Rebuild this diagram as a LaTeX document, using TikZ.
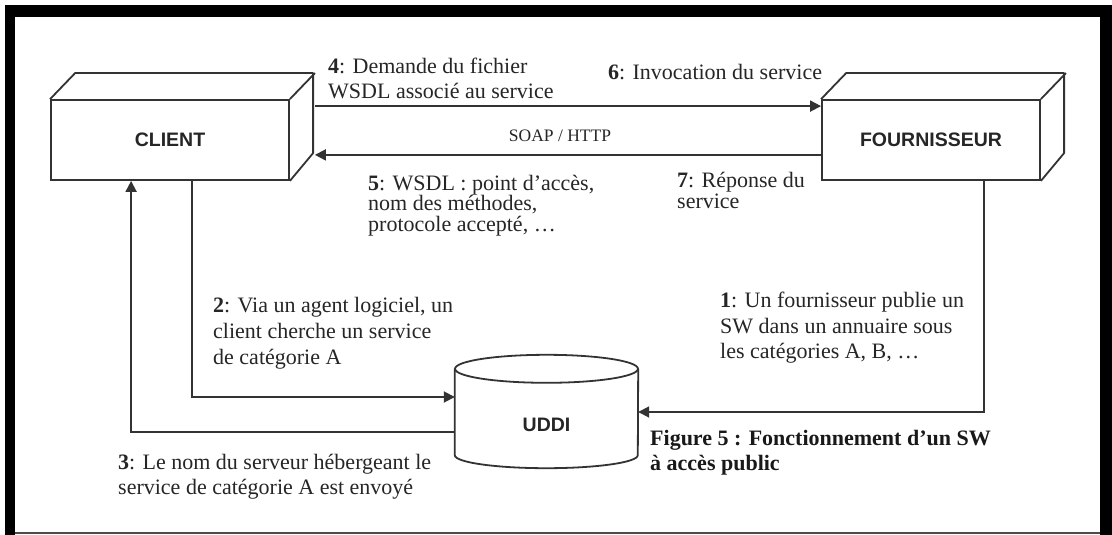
\documentclass[tikz,border=0pt]{standalone}
\usepackage{fontspec}
\setmainfont{Liberation Serif}
\setsansfont{Liberation Sans}
\usetikzlibrary{arrows.meta,calc}
\begin{document}
\begin{tikzpicture}[x=1pt,y=-1pt,
  ln/.style={draw=black!80, line width=1.8pt},
  arr/.style={ln, -{Triangle[length=11pt,width=11pt]}},
  box/.style={ln, minimum height=80pt, inner sep=0pt, font=\sffamily\bfseries\fontsize{19.5}{22}\selectfont, text=black!85},
  sanslbl/.style={inner sep=0pt, font=\sffamily\bfseries\fontsize{19.5}{22}\selectfont, text=black!85},
  lbl/.style={anchor=base west, inner sep=0pt, font=\fontsize{22}{25}\selectfont, text=black!85},
  captionlbl/.style={lbl, font=\bfseries\fontsize{22}{25}\selectfont, text=black!90},
]
\useasboundingbox (0,0) rectangle (1112,535);
\fill[white] (0,0) rectangle (1112,535);
% frame
\fill[black] (5,5) rectangle (15,535);
\fill[black] (5,5) rectangle (1112,17);
\fill[black] (1100,5) rectangle (1112,535);
\draw[black!70, line width=1.5pt] (15,533) -- (1100,533);

% boxes
\node[box, minimum width=238pt] (client) at (170,140) {CLIENT};
\draw[ln, line join=round] (client.north west) -- ++(25,-26) -- ++(238,0) -- ++(0,80) -- (client.south east);
\draw[ln] (client.north east) -- ++(25,-26);

\node[box, minimum width=218pt] (fourn) at (931,140) {FOURNISSEUR};
\draw[ln, line join=round] (fourn.north west) -- ++(25,-26) -- ++(218,0) -- ++(0,80) -- (fourn.south east);
\draw[ln] (fourn.north east) -- ++(25,-26);

% cylinder
\node[inner sep=0pt, minimum width=183pt, minimum height=86pt] (uddi) at (546.5,412) {};
\draw[ln] (uddi.north) ellipse [x radius=91.5pt, y radius=14pt];
\draw[ln] (uddi.north west) -- (uddi.south west) arc[start angle=180, end angle=360, x radius=91.5pt, y radius=13pt] -- (uddi.north east);
\node[sanslbl] (uddilbl) at (546.5,425) {UDDI};

% connectors
\draw[arr] ([xshift=25pt,yshift=-7pt]client.north east) -- ([yshift=-7pt]fourn.north west);
\draw[arr] ([yshift=26pt]fourn.south west) -- ([xshift=25pt,yshift=26pt]client.south east);
\draw[arr] ([xshift=142pt]client.south west) |- ([yshift=15pt]uddi.west);
\draw[arr] ([yshift=-20pt]uddi.west) -| ([xshift=81pt]client.south west);
\draw[arr] ([xshift=163pt]fourn.south west) |- (uddi.east);

% labels
\node[lbl] (l4a) at (328,74) {\textbf{4}: Demande du fichier};
\node[lbl] (l4b) at (328,99) {WSDL associé au service};
\node[lbl] (l6) at (608,80) {\textbf{6}: Invocation du service};
\node[anchor=base, inner sep=0pt, font=\fontsize{17.5}{20}\selectfont, text=black!85] (soap) at (560,141) {SOAP / HTTP};
\node[lbl] (l5a) at (368,190) {\textbf{5}: WSDL : point d’accès,};
\node[lbl] (l5b) at (368,210) {nom des méthodes,};
\node[lbl] (l5c) at (368,231) {protocole accepté, …};
\node[lbl] (l7a) at (677,187) {\textbf{7}: Réponse du};
\node[lbl] (l7b) at (677,208) {service};
\node[lbl] (l2a) at (213,312) {\textbf{2}: Via un agent logiciel, un};
\node[lbl] (l2b) at (213,338) {client cherche un service};
\node[lbl] (l2c) at (213,364) {de catégorie A};
\node[lbl] (l1a) at (720,307) {\textbf{1}: Un fournisseur publie un};
\node[lbl] (l1b) at (720,333) {SW dans un annuaire sous};
\node[lbl] (l1c) at (720,358) {les catégories A, B, …};
\node[lbl] (l3a) at (118,469) {\textbf{3}: Le nom du serveur hébergeant le};
\node[lbl] (l3b) at (118,494) {service de catégorie A est envoyé};
\node[captionlbl] (cap1) at (650,445) {Figure 5 : Fonctionnement d’un SW};
\node[captionlbl] (cap2) at (650,470) {à accès public};
\end{tikzpicture}
\end{document}
